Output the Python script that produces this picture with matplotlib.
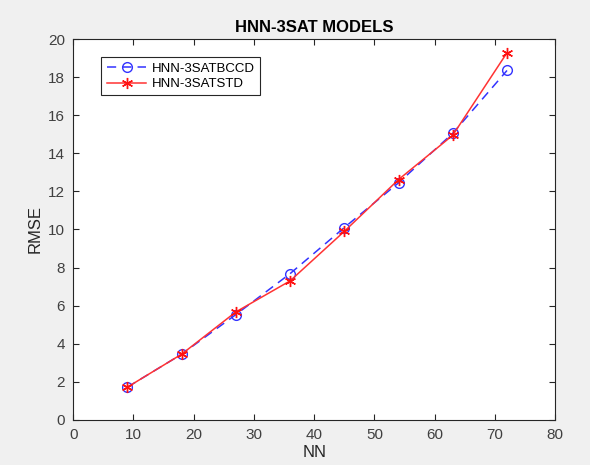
import matplotlib.pyplot as plt

plt.rcParams['font.family'] = ['Liberation Sans', 'DejaVu Sans']

nn = [9, 18, 27, 36, 45, 54, 63, 72]
rmse_bccd = [1.72, 3.45, 5.53, 7.68, 10.1, 12.45, 15.05, 18.35]
rmse_std = [1.72, 3.45, 5.67, 7.3, 9.9, 12.62, 14.95, 19.28]

x_ticks = list(range(0, 81, 10))
y_ticks = list(range(0, 21, 2))

fig = plt.figure(figsize=(5.9, 4.65), dpi=100, facecolor='#f0f0f0')
ax = fig.add_axes([0.124, 0.097, 0.817, 0.819])

ax.plot(nn, rmse_bccd, color='#3333ff', linestyle=(0, (6, 4)), linewidth=1.1,
        marker='o', markersize=7, markerfacecolor='none', markeredgecolor='#3333ff',
        label='HNN-3SATBCCD')
ax.plot(nn, rmse_std, color='#ff3333', linestyle='-', linewidth=1.1,
        marker=(6, 2, 0), markersize=8, markeredgecolor='#ff1111', markeredgewidth=1.0,
        label='HNN-3SATSTD')

ax.set_xlim(0, 80)
ax.set_ylim(0, 20)
ax.set_xticks(x_ticks)
ax.set_yticks(y_ticks)
ax.tick_params(direction='in', top=True, right=True, length=4, labelsize=11,
               colors='#262626', labelcolor='#404040', pad=6)
for s in ax.spines.values():
    s.set_color('#262626')
    s.set_linewidth(0.8)

ax.set_xlabel('NN', fontsize=12, color='#262626', labelpad=2)
ax.set_ylabel('RMSE', fontsize=12, color='#262626')
ax.set_title('HNN-3SAT MODELS', fontsize=12, fontweight='bold', color='black', pad=5)

leg = ax.legend(loc='upper left', bbox_to_anchor=(0.045, 0.97), fontsize=9.5,
                frameon=True, fancybox=False, edgecolor='#262626', framealpha=1,
                handlelength=3.0, borderpad=0.4, labelspacing=0.25, handletextpad=0.4)
leg.get_frame().set_linewidth(0.8)

fig.savefig('out.png', dpi=100, facecolor=fig.get_facecolor())
